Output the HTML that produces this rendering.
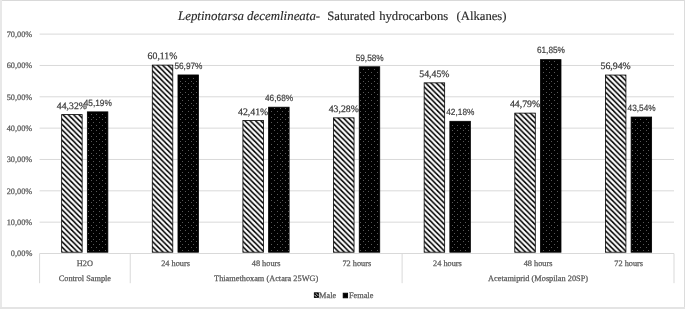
<!DOCTYPE html>
<html><head><meta charset="utf-8"><style>
html,body{margin:0;padding:0;background:#fff;}
body{width:685px;height:309px;overflow:hidden;}
svg{display:block;will-change:transform;}
text{font-family:"Liberation Serif",serif;text-rendering:geometricPrecision;}
</style></head><body>
<svg width="685" height="309" viewBox="0 0 685 309">
<defs>
<pattern id="hatch" patternUnits="userSpaceOnUse" x="0" y="0" width="5.330" height="5.330">
<rect width="5.330" height="5.330" fill="#fff"/>
<path d="M-11.160,-2.000 L-1.830,7.330 M-5.830,-2.000 L3.500,7.330 M-0.500,-2.000 L8.830,7.330 M4.830,-2.000 L14.160,7.330" stroke="#000" stroke-width="1.6"/>
</pattern>
<pattern id="dots" patternUnits="userSpaceOnUse" x="0" y="0" width="5.600" height="5.600">
<rect width="5.600" height="5.600" fill="#000"/>
<rect x="1.5" y="2.4" width="0.85" height="0.85" fill="#fff" fill-opacity="0.85"/>
<rect x="4.3" y="-0.4" width="0.85" height="0.85" fill="#fff" fill-opacity="0.85"/>
<rect x="4.3" y="5.2" width="0.85" height="0.85" fill="#fff" fill-opacity="0.85"/>
</pattern>
</defs>
<rect x="0" y="0" width="685" height="309" fill="#fff"/>
<rect x="1" y="0" width="684" height="1" fill="#d9d9d9"/>
<rect x="0" y="0" width="2" height="309" fill="#e8e8e8"/>
<rect x="684" y="0" width="1" height="309" fill="#dcdcdc"/>
<rect x="0" y="307" width="685" height="2" fill="#e4e4e4"/>
<line x1="39.60" y1="253.50" x2="674.00" y2="253.50" stroke="#d9d9d9" stroke-width="1"/>
<text x="32.3" y="256.40" font-size="8.3" fill="#595959" stroke="#595959" stroke-width="0.25" text-anchor="end">0,00%</text>
<line x1="39.60" y1="222.16" x2="674.00" y2="222.16" stroke="#d9d9d9" stroke-width="1"/>
<text x="32.3" y="225.06" font-size="8.3" fill="#595959" stroke="#595959" stroke-width="0.25" text-anchor="end">10,00%</text>
<line x1="39.60" y1="190.82" x2="674.00" y2="190.82" stroke="#d9d9d9" stroke-width="1"/>
<text x="32.3" y="193.72" font-size="8.3" fill="#595959" stroke="#595959" stroke-width="0.25" text-anchor="end">20,00%</text>
<line x1="39.60" y1="159.48" x2="674.00" y2="159.48" stroke="#d9d9d9" stroke-width="1"/>
<text x="32.3" y="162.38" font-size="8.3" fill="#595959" stroke="#595959" stroke-width="0.25" text-anchor="end">30,00%</text>
<line x1="39.60" y1="128.14" x2="674.00" y2="128.14" stroke="#d9d9d9" stroke-width="1"/>
<text x="32.3" y="131.04" font-size="8.3" fill="#595959" stroke="#595959" stroke-width="0.25" text-anchor="end">40,00%</text>
<line x1="39.60" y1="96.80" x2="674.00" y2="96.80" stroke="#d9d9d9" stroke-width="1"/>
<text x="32.3" y="99.70" font-size="8.3" fill="#595959" stroke="#595959" stroke-width="0.25" text-anchor="end">50,00%</text>
<line x1="39.60" y1="65.46" x2="674.00" y2="65.46" stroke="#d9d9d9" stroke-width="1"/>
<text x="32.3" y="68.36" font-size="8.3" fill="#595959" stroke="#595959" stroke-width="0.25" text-anchor="end">60,00%</text>
<line x1="39.60" y1="34.12" x2="674.00" y2="34.12" stroke="#d9d9d9" stroke-width="1"/>
<text x="32.3" y="37.02" font-size="8.3" fill="#595959" stroke="#595959" stroke-width="0.25" text-anchor="end">70,00%</text>
<line x1="39.60" y1="253.50" x2="39.60" y2="283.2" stroke="#d9d9d9" stroke-width="1"/>
<line x1="130.23" y1="253.50" x2="130.23" y2="283.2" stroke="#d9d9d9" stroke-width="1"/>
<line x1="402.11" y1="253.50" x2="402.11" y2="283.2" stroke="#d9d9d9" stroke-width="1"/>
<line x1="674.00" y1="253.50" x2="674.00" y2="283.2" stroke="#d9d9d9" stroke-width="1"/>
<rect x="61.65" y="114.60" width="20.50" height="137.60" fill="url(#hatch)" stroke="#000" stroke-width="0.80"/>
<rect x="87.35" y="111.87" width="20.50" height="140.33" fill="#000" stroke="#000" stroke-width="0.80"/>
<path d="M88,250h1v1h-1zM93,250h1v1h-1zM99,250h1v1h-1zM105,250h1v1h-1zM91,247h1v1h-1zM96,247h1v1h-1zM102,247h1v1h-1zM88,244h1v1h-1zM93,244h1v1h-1zM99,244h1v1h-1zM105,244h1v1h-1zM91,241h1v1h-1zM96,241h1v1h-1zM102,241h1v1h-1zM88,239h1v1h-1zM93,239h1v1h-1zM99,239h1v1h-1zM105,239h1v1h-1zM91,236h1v1h-1zM96,236h1v1h-1zM102,236h1v1h-1zM88,233h1v1h-1zM93,233h1v1h-1zM99,233h1v1h-1zM105,233h1v1h-1zM91,230h1v1h-1zM96,230h1v1h-1zM102,230h1v1h-1zM88,227h1v1h-1zM93,227h1v1h-1zM99,227h1v1h-1zM105,227h1v1h-1zM91,225h1v1h-1zM96,225h1v1h-1zM102,225h1v1h-1zM88,222h1v1h-1zM93,222h1v1h-1zM99,222h1v1h-1zM105,222h1v1h-1zM91,219h1v1h-1zM96,219h1v1h-1zM102,219h1v1h-1zM88,216h1v1h-1zM93,216h1v1h-1zM99,216h1v1h-1zM105,216h1v1h-1zM91,214h1v1h-1zM96,214h1v1h-1zM102,214h1v1h-1zM88,211h1v1h-1zM93,211h1v1h-1zM99,211h1v1h-1zM105,211h1v1h-1zM91,208h1v1h-1zM96,208h1v1h-1zM102,208h1v1h-1zM88,205h1v1h-1zM93,205h1v1h-1zM99,205h1v1h-1zM105,205h1v1h-1zM91,202h1v1h-1zM96,202h1v1h-1zM102,202h1v1h-1zM88,200h1v1h-1zM93,200h1v1h-1zM99,200h1v1h-1zM105,200h1v1h-1zM91,197h1v1h-1zM96,197h1v1h-1zM102,197h1v1h-1zM88,194h1v1h-1zM93,194h1v1h-1zM99,194h1v1h-1zM105,194h1v1h-1zM91,191h1v1h-1zM96,191h1v1h-1zM102,191h1v1h-1zM88,189h1v1h-1zM93,189h1v1h-1zM99,189h1v1h-1zM105,189h1v1h-1zM91,186h1v1h-1zM96,186h1v1h-1zM102,186h1v1h-1zM88,183h1v1h-1zM93,183h1v1h-1zM99,183h1v1h-1zM105,183h1v1h-1zM91,180h1v1h-1zM96,180h1v1h-1zM102,180h1v1h-1zM88,178h1v1h-1zM93,178h1v1h-1zM99,178h1v1h-1zM105,178h1v1h-1zM91,175h1v1h-1zM96,175h1v1h-1zM102,175h1v1h-1zM88,172h1v1h-1zM93,172h1v1h-1zM99,172h1v1h-1zM105,172h1v1h-1zM91,169h1v1h-1zM96,169h1v1h-1zM102,169h1v1h-1zM88,166h1v1h-1zM93,166h1v1h-1zM99,166h1v1h-1zM105,166h1v1h-1zM91,164h1v1h-1zM96,164h1v1h-1zM102,164h1v1h-1zM88,161h1v1h-1zM93,161h1v1h-1zM99,161h1v1h-1zM105,161h1v1h-1zM91,158h1v1h-1zM96,158h1v1h-1zM102,158h1v1h-1zM88,155h1v1h-1zM93,155h1v1h-1zM99,155h1v1h-1zM105,155h1v1h-1zM91,153h1v1h-1zM96,153h1v1h-1zM102,153h1v1h-1zM88,150h1v1h-1zM93,150h1v1h-1zM99,150h1v1h-1zM105,150h1v1h-1zM91,147h1v1h-1zM96,147h1v1h-1zM102,147h1v1h-1zM88,144h1v1h-1zM93,144h1v1h-1zM99,144h1v1h-1zM105,144h1v1h-1zM91,141h1v1h-1zM96,141h1v1h-1zM102,141h1v1h-1zM88,139h1v1h-1zM93,139h1v1h-1zM99,139h1v1h-1zM105,139h1v1h-1zM91,136h1v1h-1zM96,136h1v1h-1zM102,136h1v1h-1zM88,133h1v1h-1zM93,133h1v1h-1zM99,133h1v1h-1zM105,133h1v1h-1zM91,130h1v1h-1zM96,130h1v1h-1zM102,130h1v1h-1zM88,128h1v1h-1zM93,128h1v1h-1zM99,128h1v1h-1zM105,128h1v1h-1zM91,125h1v1h-1zM96,125h1v1h-1zM102,125h1v1h-1zM88,122h1v1h-1zM93,122h1v1h-1zM99,122h1v1h-1zM105,122h1v1h-1zM91,119h1v1h-1zM96,119h1v1h-1zM102,119h1v1h-1zM88,117h1v1h-1zM93,117h1v1h-1zM99,117h1v1h-1zM105,117h1v1h-1zM91,114h1v1h-1zM96,114h1v1h-1zM102,114h1v1h-1z" fill="#585858"/>
<text x="71.90" y="108.60" font-size="9.8" fill="#404040" stroke="#404040" stroke-width="0.25" text-anchor="middle">44,32%</text>
<text transform="translate(97.80,105.67) scale(0.92,1)" x="0" y="0" font-size="9.0" style="font-family:'Liberation Sans',sans-serif" fill="#404040" stroke="#404040" stroke-width="0.2" text-anchor="middle">45,19%</text>
<text x="84.91" y="266.1" font-size="8.3" fill="#595959" stroke="#595959" stroke-width="0.25" text-anchor="middle">H2O</text>
<rect x="152.28" y="65.12" width="20.50" height="187.08" fill="url(#hatch)" stroke="#000" stroke-width="0.80"/>
<rect x="177.98" y="74.96" width="20.50" height="177.24" fill="#000" stroke="#000" stroke-width="0.80"/>
<path d="M182,250h1v1h-1zM188,250h1v1h-1zM193,250h1v1h-1zM180,247h1v1h-1zM185,247h1v1h-1zM191,247h1v1h-1zM196,247h1v1h-1zM182,244h1v1h-1zM188,244h1v1h-1zM193,244h1v1h-1zM180,241h1v1h-1zM185,241h1v1h-1zM191,241h1v1h-1zM196,241h1v1h-1zM182,239h1v1h-1zM188,239h1v1h-1zM193,239h1v1h-1zM180,236h1v1h-1zM185,236h1v1h-1zM191,236h1v1h-1zM196,236h1v1h-1zM182,233h1v1h-1zM188,233h1v1h-1zM193,233h1v1h-1zM180,230h1v1h-1zM185,230h1v1h-1zM191,230h1v1h-1zM196,230h1v1h-1zM182,227h1v1h-1zM188,227h1v1h-1zM193,227h1v1h-1zM180,225h1v1h-1zM185,225h1v1h-1zM191,225h1v1h-1zM196,225h1v1h-1zM182,222h1v1h-1zM188,222h1v1h-1zM193,222h1v1h-1zM180,219h1v1h-1zM185,219h1v1h-1zM191,219h1v1h-1zM196,219h1v1h-1zM182,216h1v1h-1zM188,216h1v1h-1zM193,216h1v1h-1zM180,214h1v1h-1zM185,214h1v1h-1zM191,214h1v1h-1zM196,214h1v1h-1zM182,211h1v1h-1zM188,211h1v1h-1zM193,211h1v1h-1zM180,208h1v1h-1zM185,208h1v1h-1zM191,208h1v1h-1zM196,208h1v1h-1zM182,205h1v1h-1zM188,205h1v1h-1zM193,205h1v1h-1zM180,202h1v1h-1zM185,202h1v1h-1zM191,202h1v1h-1zM196,202h1v1h-1zM182,200h1v1h-1zM188,200h1v1h-1zM193,200h1v1h-1zM180,197h1v1h-1zM185,197h1v1h-1zM191,197h1v1h-1zM196,197h1v1h-1zM182,194h1v1h-1zM188,194h1v1h-1zM193,194h1v1h-1zM180,191h1v1h-1zM185,191h1v1h-1zM191,191h1v1h-1zM196,191h1v1h-1zM182,189h1v1h-1zM188,189h1v1h-1zM193,189h1v1h-1zM180,186h1v1h-1zM185,186h1v1h-1zM191,186h1v1h-1zM196,186h1v1h-1zM182,183h1v1h-1zM188,183h1v1h-1zM193,183h1v1h-1zM180,180h1v1h-1zM185,180h1v1h-1zM191,180h1v1h-1zM196,180h1v1h-1zM182,178h1v1h-1zM188,178h1v1h-1zM193,178h1v1h-1zM180,175h1v1h-1zM185,175h1v1h-1zM191,175h1v1h-1zM196,175h1v1h-1zM182,172h1v1h-1zM188,172h1v1h-1zM193,172h1v1h-1zM180,169h1v1h-1zM185,169h1v1h-1zM191,169h1v1h-1zM196,169h1v1h-1zM182,166h1v1h-1zM188,166h1v1h-1zM193,166h1v1h-1zM180,164h1v1h-1zM185,164h1v1h-1zM191,164h1v1h-1zM196,164h1v1h-1zM182,161h1v1h-1zM188,161h1v1h-1zM193,161h1v1h-1zM180,158h1v1h-1zM185,158h1v1h-1zM191,158h1v1h-1zM196,158h1v1h-1zM182,155h1v1h-1zM188,155h1v1h-1zM193,155h1v1h-1zM180,153h1v1h-1zM185,153h1v1h-1zM191,153h1v1h-1zM196,153h1v1h-1zM182,150h1v1h-1zM188,150h1v1h-1zM193,150h1v1h-1zM180,147h1v1h-1zM185,147h1v1h-1zM191,147h1v1h-1zM196,147h1v1h-1zM182,144h1v1h-1zM188,144h1v1h-1zM193,144h1v1h-1zM180,141h1v1h-1zM185,141h1v1h-1zM191,141h1v1h-1zM196,141h1v1h-1zM182,139h1v1h-1zM188,139h1v1h-1zM193,139h1v1h-1zM180,136h1v1h-1zM185,136h1v1h-1zM191,136h1v1h-1zM196,136h1v1h-1zM182,133h1v1h-1zM188,133h1v1h-1zM193,133h1v1h-1zM180,130h1v1h-1zM185,130h1v1h-1zM191,130h1v1h-1zM196,130h1v1h-1zM182,128h1v1h-1zM188,128h1v1h-1zM193,128h1v1h-1zM180,125h1v1h-1zM185,125h1v1h-1zM191,125h1v1h-1zM196,125h1v1h-1zM182,122h1v1h-1zM188,122h1v1h-1zM193,122h1v1h-1zM180,119h1v1h-1zM185,119h1v1h-1zM191,119h1v1h-1zM196,119h1v1h-1zM182,117h1v1h-1zM188,117h1v1h-1zM193,117h1v1h-1zM180,114h1v1h-1zM185,114h1v1h-1zM191,114h1v1h-1zM196,114h1v1h-1zM182,111h1v1h-1zM188,111h1v1h-1zM193,111h1v1h-1zM180,108h1v1h-1zM185,108h1v1h-1zM191,108h1v1h-1zM196,108h1v1h-1zM182,105h1v1h-1zM188,105h1v1h-1zM193,105h1v1h-1zM180,103h1v1h-1zM185,103h1v1h-1zM191,103h1v1h-1zM196,103h1v1h-1zM182,100h1v1h-1zM188,100h1v1h-1zM193,100h1v1h-1zM180,97h1v1h-1zM185,97h1v1h-1zM191,97h1v1h-1zM196,97h1v1h-1zM182,94h1v1h-1zM188,94h1v1h-1zM193,94h1v1h-1zM180,92h1v1h-1zM185,92h1v1h-1zM191,92h1v1h-1zM196,92h1v1h-1zM182,89h1v1h-1zM188,89h1v1h-1zM193,89h1v1h-1zM180,86h1v1h-1zM185,86h1v1h-1zM191,86h1v1h-1zM196,86h1v1h-1zM182,83h1v1h-1zM188,83h1v1h-1zM193,83h1v1h-1zM180,81h1v1h-1zM185,81h1v1h-1zM191,81h1v1h-1zM196,81h1v1h-1zM182,78h1v1h-1zM188,78h1v1h-1zM193,78h1v1h-1z" fill="#585858"/>
<text x="162.53" y="59.12" font-size="9.8" fill="#404040" stroke="#404040" stroke-width="0.25" text-anchor="middle">60,11%</text>
<text transform="translate(188.43,68.76) scale(0.92,1)" x="0" y="0" font-size="9.0" style="font-family:'Liberation Sans',sans-serif" fill="#404040" stroke="#404040" stroke-width="0.2" text-anchor="middle">56,97%</text>
<text x="175.54" y="266.1" font-size="8.3" fill="#595959" stroke="#595959" stroke-width="0.25" text-anchor="middle">24 hours</text>
<rect x="242.91" y="120.59" width="20.50" height="131.61" fill="url(#hatch)" stroke="#000" stroke-width="0.80"/>
<rect x="268.61" y="107.20" width="20.50" height="145.00" fill="#000" stroke="#000" stroke-width="0.80"/>
<path d="M271,250h1v1h-1zM277,250h1v1h-1zM282,250h1v1h-1zM288,250h1v1h-1zM274,247h1v1h-1zM280,247h1v1h-1zM285,247h1v1h-1zM271,244h1v1h-1zM277,244h1v1h-1zM282,244h1v1h-1zM288,244h1v1h-1zM274,241h1v1h-1zM280,241h1v1h-1zM285,241h1v1h-1zM271,239h1v1h-1zM277,239h1v1h-1zM282,239h1v1h-1zM288,239h1v1h-1zM274,236h1v1h-1zM280,236h1v1h-1zM285,236h1v1h-1zM271,233h1v1h-1zM277,233h1v1h-1zM282,233h1v1h-1zM288,233h1v1h-1zM274,230h1v1h-1zM280,230h1v1h-1zM285,230h1v1h-1zM271,227h1v1h-1zM277,227h1v1h-1zM282,227h1v1h-1zM288,227h1v1h-1zM274,225h1v1h-1zM280,225h1v1h-1zM285,225h1v1h-1zM271,222h1v1h-1zM277,222h1v1h-1zM282,222h1v1h-1zM288,222h1v1h-1zM274,219h1v1h-1zM280,219h1v1h-1zM285,219h1v1h-1zM271,216h1v1h-1zM277,216h1v1h-1zM282,216h1v1h-1zM288,216h1v1h-1zM274,214h1v1h-1zM280,214h1v1h-1zM285,214h1v1h-1zM271,211h1v1h-1zM277,211h1v1h-1zM282,211h1v1h-1zM288,211h1v1h-1zM274,208h1v1h-1zM280,208h1v1h-1zM285,208h1v1h-1zM271,205h1v1h-1zM277,205h1v1h-1zM282,205h1v1h-1zM288,205h1v1h-1zM274,202h1v1h-1zM280,202h1v1h-1zM285,202h1v1h-1zM271,200h1v1h-1zM277,200h1v1h-1zM282,200h1v1h-1zM288,200h1v1h-1zM274,197h1v1h-1zM280,197h1v1h-1zM285,197h1v1h-1zM271,194h1v1h-1zM277,194h1v1h-1zM282,194h1v1h-1zM288,194h1v1h-1zM274,191h1v1h-1zM280,191h1v1h-1zM285,191h1v1h-1zM271,189h1v1h-1zM277,189h1v1h-1zM282,189h1v1h-1zM288,189h1v1h-1zM274,186h1v1h-1zM280,186h1v1h-1zM285,186h1v1h-1zM271,183h1v1h-1zM277,183h1v1h-1zM282,183h1v1h-1zM288,183h1v1h-1zM274,180h1v1h-1zM280,180h1v1h-1zM285,180h1v1h-1zM271,178h1v1h-1zM277,178h1v1h-1zM282,178h1v1h-1zM288,178h1v1h-1zM274,175h1v1h-1zM280,175h1v1h-1zM285,175h1v1h-1zM271,172h1v1h-1zM277,172h1v1h-1zM282,172h1v1h-1zM288,172h1v1h-1zM274,169h1v1h-1zM280,169h1v1h-1zM285,169h1v1h-1zM271,166h1v1h-1zM277,166h1v1h-1zM282,166h1v1h-1zM288,166h1v1h-1zM274,164h1v1h-1zM280,164h1v1h-1zM285,164h1v1h-1zM271,161h1v1h-1zM277,161h1v1h-1zM282,161h1v1h-1zM288,161h1v1h-1zM274,158h1v1h-1zM280,158h1v1h-1zM285,158h1v1h-1zM271,155h1v1h-1zM277,155h1v1h-1zM282,155h1v1h-1zM288,155h1v1h-1zM274,153h1v1h-1zM280,153h1v1h-1zM285,153h1v1h-1zM271,150h1v1h-1zM277,150h1v1h-1zM282,150h1v1h-1zM288,150h1v1h-1zM274,147h1v1h-1zM280,147h1v1h-1zM285,147h1v1h-1zM271,144h1v1h-1zM277,144h1v1h-1zM282,144h1v1h-1zM288,144h1v1h-1zM274,141h1v1h-1zM280,141h1v1h-1zM285,141h1v1h-1zM271,139h1v1h-1zM277,139h1v1h-1zM282,139h1v1h-1zM288,139h1v1h-1zM274,136h1v1h-1zM280,136h1v1h-1zM285,136h1v1h-1zM271,133h1v1h-1zM277,133h1v1h-1zM282,133h1v1h-1zM288,133h1v1h-1zM274,130h1v1h-1zM280,130h1v1h-1zM285,130h1v1h-1zM271,128h1v1h-1zM277,128h1v1h-1zM282,128h1v1h-1zM288,128h1v1h-1zM274,125h1v1h-1zM280,125h1v1h-1zM285,125h1v1h-1zM271,122h1v1h-1zM277,122h1v1h-1zM282,122h1v1h-1zM288,122h1v1h-1zM274,119h1v1h-1zM280,119h1v1h-1zM285,119h1v1h-1zM271,117h1v1h-1zM277,117h1v1h-1zM282,117h1v1h-1zM288,117h1v1h-1zM274,114h1v1h-1zM280,114h1v1h-1zM285,114h1v1h-1zM271,111h1v1h-1zM277,111h1v1h-1zM282,111h1v1h-1zM288,111h1v1h-1zM274,108h1v1h-1zM280,108h1v1h-1zM285,108h1v1h-1z" fill="#585858"/>
<text x="253.16" y="114.59" font-size="9.8" fill="#404040" stroke="#404040" stroke-width="0.25" text-anchor="middle">42,41%</text>
<text transform="translate(279.06,101.00) scale(0.92,1)" x="0" y="0" font-size="9.0" style="font-family:'Liberation Sans',sans-serif" fill="#404040" stroke="#404040" stroke-width="0.2" text-anchor="middle">46,68%</text>
<text x="266.17" y="266.1" font-size="8.3" fill="#595959" stroke="#595959" stroke-width="0.25" text-anchor="middle">48 hours</text>
<rect x="333.54" y="117.86" width="20.50" height="134.34" fill="url(#hatch)" stroke="#000" stroke-width="0.80"/>
<rect x="359.24" y="66.78" width="20.50" height="185.42" fill="#000" stroke="#000" stroke-width="0.80"/>
<path d="M360,250h1v1h-1zM365,250h1v1h-1zM371,250h1v1h-1zM377,250h1v1h-1zM363,247h1v1h-1zM368,247h1v1h-1zM374,247h1v1h-1zM360,244h1v1h-1zM365,244h1v1h-1zM371,244h1v1h-1zM377,244h1v1h-1zM363,241h1v1h-1zM368,241h1v1h-1zM374,241h1v1h-1zM360,239h1v1h-1zM365,239h1v1h-1zM371,239h1v1h-1zM377,239h1v1h-1zM363,236h1v1h-1zM368,236h1v1h-1zM374,236h1v1h-1zM360,233h1v1h-1zM365,233h1v1h-1zM371,233h1v1h-1zM377,233h1v1h-1zM363,230h1v1h-1zM368,230h1v1h-1zM374,230h1v1h-1zM360,227h1v1h-1zM365,227h1v1h-1zM371,227h1v1h-1zM377,227h1v1h-1zM363,225h1v1h-1zM368,225h1v1h-1zM374,225h1v1h-1zM360,222h1v1h-1zM365,222h1v1h-1zM371,222h1v1h-1zM377,222h1v1h-1zM363,219h1v1h-1zM368,219h1v1h-1zM374,219h1v1h-1zM360,216h1v1h-1zM365,216h1v1h-1zM371,216h1v1h-1zM377,216h1v1h-1zM363,214h1v1h-1zM368,214h1v1h-1zM374,214h1v1h-1zM360,211h1v1h-1zM365,211h1v1h-1zM371,211h1v1h-1zM377,211h1v1h-1zM363,208h1v1h-1zM368,208h1v1h-1zM374,208h1v1h-1zM360,205h1v1h-1zM365,205h1v1h-1zM371,205h1v1h-1zM377,205h1v1h-1zM363,202h1v1h-1zM368,202h1v1h-1zM374,202h1v1h-1zM360,200h1v1h-1zM365,200h1v1h-1zM371,200h1v1h-1zM377,200h1v1h-1zM363,197h1v1h-1zM368,197h1v1h-1zM374,197h1v1h-1zM360,194h1v1h-1zM365,194h1v1h-1zM371,194h1v1h-1zM377,194h1v1h-1zM363,191h1v1h-1zM368,191h1v1h-1zM374,191h1v1h-1zM360,189h1v1h-1zM365,189h1v1h-1zM371,189h1v1h-1zM377,189h1v1h-1zM363,186h1v1h-1zM368,186h1v1h-1zM374,186h1v1h-1zM360,183h1v1h-1zM365,183h1v1h-1zM371,183h1v1h-1zM377,183h1v1h-1zM363,180h1v1h-1zM368,180h1v1h-1zM374,180h1v1h-1zM360,178h1v1h-1zM365,178h1v1h-1zM371,178h1v1h-1zM377,178h1v1h-1zM363,175h1v1h-1zM368,175h1v1h-1zM374,175h1v1h-1zM360,172h1v1h-1zM365,172h1v1h-1zM371,172h1v1h-1zM377,172h1v1h-1zM363,169h1v1h-1zM368,169h1v1h-1zM374,169h1v1h-1zM360,166h1v1h-1zM365,166h1v1h-1zM371,166h1v1h-1zM377,166h1v1h-1zM363,164h1v1h-1zM368,164h1v1h-1zM374,164h1v1h-1zM360,161h1v1h-1zM365,161h1v1h-1zM371,161h1v1h-1zM377,161h1v1h-1zM363,158h1v1h-1zM368,158h1v1h-1zM374,158h1v1h-1zM360,155h1v1h-1zM365,155h1v1h-1zM371,155h1v1h-1zM377,155h1v1h-1zM363,153h1v1h-1zM368,153h1v1h-1zM374,153h1v1h-1zM360,150h1v1h-1zM365,150h1v1h-1zM371,150h1v1h-1zM377,150h1v1h-1zM363,147h1v1h-1zM368,147h1v1h-1zM374,147h1v1h-1zM360,144h1v1h-1zM365,144h1v1h-1zM371,144h1v1h-1zM377,144h1v1h-1zM363,141h1v1h-1zM368,141h1v1h-1zM374,141h1v1h-1zM360,139h1v1h-1zM365,139h1v1h-1zM371,139h1v1h-1zM377,139h1v1h-1zM363,136h1v1h-1zM368,136h1v1h-1zM374,136h1v1h-1zM360,133h1v1h-1zM365,133h1v1h-1zM371,133h1v1h-1zM377,133h1v1h-1zM363,130h1v1h-1zM368,130h1v1h-1zM374,130h1v1h-1zM360,128h1v1h-1zM365,128h1v1h-1zM371,128h1v1h-1zM377,128h1v1h-1zM363,125h1v1h-1zM368,125h1v1h-1zM374,125h1v1h-1zM360,122h1v1h-1zM365,122h1v1h-1zM371,122h1v1h-1zM377,122h1v1h-1zM363,119h1v1h-1zM368,119h1v1h-1zM374,119h1v1h-1zM360,117h1v1h-1zM365,117h1v1h-1zM371,117h1v1h-1zM377,117h1v1h-1zM363,114h1v1h-1zM368,114h1v1h-1zM374,114h1v1h-1zM360,111h1v1h-1zM365,111h1v1h-1zM371,111h1v1h-1zM377,111h1v1h-1zM363,108h1v1h-1zM368,108h1v1h-1zM374,108h1v1h-1zM360,105h1v1h-1zM365,105h1v1h-1zM371,105h1v1h-1zM377,105h1v1h-1zM363,103h1v1h-1zM368,103h1v1h-1zM374,103h1v1h-1zM360,100h1v1h-1zM365,100h1v1h-1zM371,100h1v1h-1zM377,100h1v1h-1zM363,97h1v1h-1zM368,97h1v1h-1zM374,97h1v1h-1zM360,94h1v1h-1zM365,94h1v1h-1zM371,94h1v1h-1zM377,94h1v1h-1zM363,92h1v1h-1zM368,92h1v1h-1zM374,92h1v1h-1zM360,89h1v1h-1zM365,89h1v1h-1zM371,89h1v1h-1zM377,89h1v1h-1zM363,86h1v1h-1zM368,86h1v1h-1zM374,86h1v1h-1zM360,83h1v1h-1zM365,83h1v1h-1zM371,83h1v1h-1zM377,83h1v1h-1zM363,81h1v1h-1zM368,81h1v1h-1zM374,81h1v1h-1zM360,78h1v1h-1zM365,78h1v1h-1zM371,78h1v1h-1zM377,78h1v1h-1zM363,75h1v1h-1zM368,75h1v1h-1zM374,75h1v1h-1zM360,72h1v1h-1zM365,72h1v1h-1zM371,72h1v1h-1zM377,72h1v1h-1zM363,69h1v1h-1zM368,69h1v1h-1zM374,69h1v1h-1z" fill="#585858"/>
<text x="343.79" y="111.86" font-size="9.8" fill="#404040" stroke="#404040" stroke-width="0.25" text-anchor="middle">43,28%</text>
<text transform="translate(369.69,60.58) scale(0.92,1)" x="0" y="0" font-size="9.0" style="font-family:'Liberation Sans',sans-serif" fill="#404040" stroke="#404040" stroke-width="0.2" text-anchor="middle">59,58%</text>
<text x="356.80" y="266.1" font-size="8.3" fill="#595959" stroke="#595959" stroke-width="0.25" text-anchor="middle">72 hours</text>
<rect x="424.16" y="82.85" width="20.50" height="169.35" fill="url(#hatch)" stroke="#000" stroke-width="0.80"/>
<rect x="449.86" y="121.31" width="20.50" height="130.89" fill="#000" stroke="#000" stroke-width="0.80"/>
<path d="M454,250h1v1h-1zM460,250h1v1h-1zM465,250h1v1h-1zM452,247h1v1h-1zM457,247h1v1h-1zM463,247h1v1h-1zM468,247h1v1h-1zM454,244h1v1h-1zM460,244h1v1h-1zM465,244h1v1h-1zM452,241h1v1h-1zM457,241h1v1h-1zM463,241h1v1h-1zM468,241h1v1h-1zM454,239h1v1h-1zM460,239h1v1h-1zM465,239h1v1h-1zM452,236h1v1h-1zM457,236h1v1h-1zM463,236h1v1h-1zM468,236h1v1h-1zM454,233h1v1h-1zM460,233h1v1h-1zM465,233h1v1h-1zM452,230h1v1h-1zM457,230h1v1h-1zM463,230h1v1h-1zM468,230h1v1h-1zM454,227h1v1h-1zM460,227h1v1h-1zM465,227h1v1h-1zM452,225h1v1h-1zM457,225h1v1h-1zM463,225h1v1h-1zM468,225h1v1h-1zM454,222h1v1h-1zM460,222h1v1h-1zM465,222h1v1h-1zM452,219h1v1h-1zM457,219h1v1h-1zM463,219h1v1h-1zM468,219h1v1h-1zM454,216h1v1h-1zM460,216h1v1h-1zM465,216h1v1h-1zM452,214h1v1h-1zM457,214h1v1h-1zM463,214h1v1h-1zM468,214h1v1h-1zM454,211h1v1h-1zM460,211h1v1h-1zM465,211h1v1h-1zM452,208h1v1h-1zM457,208h1v1h-1zM463,208h1v1h-1zM468,208h1v1h-1zM454,205h1v1h-1zM460,205h1v1h-1zM465,205h1v1h-1zM452,202h1v1h-1zM457,202h1v1h-1zM463,202h1v1h-1zM468,202h1v1h-1zM454,200h1v1h-1zM460,200h1v1h-1zM465,200h1v1h-1zM452,197h1v1h-1zM457,197h1v1h-1zM463,197h1v1h-1zM468,197h1v1h-1zM454,194h1v1h-1zM460,194h1v1h-1zM465,194h1v1h-1zM452,191h1v1h-1zM457,191h1v1h-1zM463,191h1v1h-1zM468,191h1v1h-1zM454,189h1v1h-1zM460,189h1v1h-1zM465,189h1v1h-1zM452,186h1v1h-1zM457,186h1v1h-1zM463,186h1v1h-1zM468,186h1v1h-1zM454,183h1v1h-1zM460,183h1v1h-1zM465,183h1v1h-1zM452,180h1v1h-1zM457,180h1v1h-1zM463,180h1v1h-1zM468,180h1v1h-1zM454,178h1v1h-1zM460,178h1v1h-1zM465,178h1v1h-1zM452,175h1v1h-1zM457,175h1v1h-1zM463,175h1v1h-1zM468,175h1v1h-1zM454,172h1v1h-1zM460,172h1v1h-1zM465,172h1v1h-1zM452,169h1v1h-1zM457,169h1v1h-1zM463,169h1v1h-1zM468,169h1v1h-1zM454,166h1v1h-1zM460,166h1v1h-1zM465,166h1v1h-1zM452,164h1v1h-1zM457,164h1v1h-1zM463,164h1v1h-1zM468,164h1v1h-1zM454,161h1v1h-1zM460,161h1v1h-1zM465,161h1v1h-1zM452,158h1v1h-1zM457,158h1v1h-1zM463,158h1v1h-1zM468,158h1v1h-1zM454,155h1v1h-1zM460,155h1v1h-1zM465,155h1v1h-1zM452,153h1v1h-1zM457,153h1v1h-1zM463,153h1v1h-1zM468,153h1v1h-1zM454,150h1v1h-1zM460,150h1v1h-1zM465,150h1v1h-1zM452,147h1v1h-1zM457,147h1v1h-1zM463,147h1v1h-1zM468,147h1v1h-1zM454,144h1v1h-1zM460,144h1v1h-1zM465,144h1v1h-1zM452,141h1v1h-1zM457,141h1v1h-1zM463,141h1v1h-1zM468,141h1v1h-1zM454,139h1v1h-1zM460,139h1v1h-1zM465,139h1v1h-1zM452,136h1v1h-1zM457,136h1v1h-1zM463,136h1v1h-1zM468,136h1v1h-1zM454,133h1v1h-1zM460,133h1v1h-1zM465,133h1v1h-1zM452,130h1v1h-1zM457,130h1v1h-1zM463,130h1v1h-1zM468,130h1v1h-1zM454,128h1v1h-1zM460,128h1v1h-1zM465,128h1v1h-1zM452,125h1v1h-1zM457,125h1v1h-1zM463,125h1v1h-1zM468,125h1v1h-1z" fill="#585858"/>
<text x="434.41" y="76.85" font-size="9.8" fill="#404040" stroke="#404040" stroke-width="0.25" text-anchor="middle">54,45%</text>
<text transform="translate(460.31,115.11) scale(0.92,1)" x="0" y="0" font-size="9.0" style="font-family:'Liberation Sans',sans-serif" fill="#404040" stroke="#404040" stroke-width="0.2" text-anchor="middle">42,18%</text>
<text x="447.43" y="266.1" font-size="8.3" fill="#595959" stroke="#595959" stroke-width="0.25" text-anchor="middle">24 hours</text>
<rect x="514.79" y="113.13" width="20.50" height="139.07" fill="url(#hatch)" stroke="#000" stroke-width="0.80"/>
<rect x="540.49" y="59.66" width="20.50" height="192.54" fill="#000" stroke="#000" stroke-width="0.80"/>
<path d="M543,250h1v1h-1zM549,250h1v1h-1zM554,250h1v1h-1zM546,247h1v1h-1zM551,247h1v1h-1zM557,247h1v1h-1zM543,244h1v1h-1zM549,244h1v1h-1zM554,244h1v1h-1zM546,241h1v1h-1zM551,241h1v1h-1zM557,241h1v1h-1zM543,239h1v1h-1zM549,239h1v1h-1zM554,239h1v1h-1zM546,236h1v1h-1zM551,236h1v1h-1zM557,236h1v1h-1zM543,233h1v1h-1zM549,233h1v1h-1zM554,233h1v1h-1zM546,230h1v1h-1zM551,230h1v1h-1zM557,230h1v1h-1zM543,227h1v1h-1zM549,227h1v1h-1zM554,227h1v1h-1zM546,225h1v1h-1zM551,225h1v1h-1zM557,225h1v1h-1zM543,222h1v1h-1zM549,222h1v1h-1zM554,222h1v1h-1zM546,219h1v1h-1zM551,219h1v1h-1zM557,219h1v1h-1zM543,216h1v1h-1zM549,216h1v1h-1zM554,216h1v1h-1zM546,214h1v1h-1zM551,214h1v1h-1zM557,214h1v1h-1zM543,211h1v1h-1zM549,211h1v1h-1zM554,211h1v1h-1zM546,208h1v1h-1zM551,208h1v1h-1zM557,208h1v1h-1zM543,205h1v1h-1zM549,205h1v1h-1zM554,205h1v1h-1zM546,202h1v1h-1zM551,202h1v1h-1zM557,202h1v1h-1zM543,200h1v1h-1zM549,200h1v1h-1zM554,200h1v1h-1zM546,197h1v1h-1zM551,197h1v1h-1zM557,197h1v1h-1zM543,194h1v1h-1zM549,194h1v1h-1zM554,194h1v1h-1zM546,191h1v1h-1zM551,191h1v1h-1zM557,191h1v1h-1zM543,189h1v1h-1zM549,189h1v1h-1zM554,189h1v1h-1zM546,186h1v1h-1zM551,186h1v1h-1zM557,186h1v1h-1zM543,183h1v1h-1zM549,183h1v1h-1zM554,183h1v1h-1zM546,180h1v1h-1zM551,180h1v1h-1zM557,180h1v1h-1zM543,178h1v1h-1zM549,178h1v1h-1zM554,178h1v1h-1zM546,175h1v1h-1zM551,175h1v1h-1zM557,175h1v1h-1zM543,172h1v1h-1zM549,172h1v1h-1zM554,172h1v1h-1zM546,169h1v1h-1zM551,169h1v1h-1zM557,169h1v1h-1zM543,166h1v1h-1zM549,166h1v1h-1zM554,166h1v1h-1zM546,164h1v1h-1zM551,164h1v1h-1zM557,164h1v1h-1zM543,161h1v1h-1zM549,161h1v1h-1zM554,161h1v1h-1zM546,158h1v1h-1zM551,158h1v1h-1zM557,158h1v1h-1zM543,155h1v1h-1zM549,155h1v1h-1zM554,155h1v1h-1zM546,153h1v1h-1zM551,153h1v1h-1zM557,153h1v1h-1zM543,150h1v1h-1zM549,150h1v1h-1zM554,150h1v1h-1zM546,147h1v1h-1zM551,147h1v1h-1zM557,147h1v1h-1zM543,144h1v1h-1zM549,144h1v1h-1zM554,144h1v1h-1zM546,141h1v1h-1zM551,141h1v1h-1zM557,141h1v1h-1zM543,139h1v1h-1zM549,139h1v1h-1zM554,139h1v1h-1zM546,136h1v1h-1zM551,136h1v1h-1zM557,136h1v1h-1zM543,133h1v1h-1zM549,133h1v1h-1zM554,133h1v1h-1zM546,130h1v1h-1zM551,130h1v1h-1zM557,130h1v1h-1zM543,128h1v1h-1zM549,128h1v1h-1zM554,128h1v1h-1zM546,125h1v1h-1zM551,125h1v1h-1zM557,125h1v1h-1zM543,122h1v1h-1zM549,122h1v1h-1zM554,122h1v1h-1zM546,119h1v1h-1zM551,119h1v1h-1zM557,119h1v1h-1zM543,117h1v1h-1zM549,117h1v1h-1zM554,117h1v1h-1zM546,114h1v1h-1zM551,114h1v1h-1zM557,114h1v1h-1zM543,111h1v1h-1zM549,111h1v1h-1zM554,111h1v1h-1zM546,108h1v1h-1zM551,108h1v1h-1zM557,108h1v1h-1zM543,105h1v1h-1zM549,105h1v1h-1zM554,105h1v1h-1zM546,103h1v1h-1zM551,103h1v1h-1zM557,103h1v1h-1zM543,100h1v1h-1zM549,100h1v1h-1zM554,100h1v1h-1zM546,97h1v1h-1zM551,97h1v1h-1zM557,97h1v1h-1zM543,94h1v1h-1zM549,94h1v1h-1zM554,94h1v1h-1zM546,92h1v1h-1zM551,92h1v1h-1zM557,92h1v1h-1zM543,89h1v1h-1zM549,89h1v1h-1zM554,89h1v1h-1zM546,86h1v1h-1zM551,86h1v1h-1zM557,86h1v1h-1zM543,83h1v1h-1zM549,83h1v1h-1zM554,83h1v1h-1zM546,81h1v1h-1zM551,81h1v1h-1zM557,81h1v1h-1zM543,78h1v1h-1zM549,78h1v1h-1zM554,78h1v1h-1zM546,75h1v1h-1zM551,75h1v1h-1zM557,75h1v1h-1zM543,72h1v1h-1zM549,72h1v1h-1zM554,72h1v1h-1zM546,69h1v1h-1zM551,69h1v1h-1zM557,69h1v1h-1zM543,67h1v1h-1zM549,67h1v1h-1zM554,67h1v1h-1zM546,64h1v1h-1zM551,64h1v1h-1zM557,64h1v1h-1zM543,61h1v1h-1zM549,61h1v1h-1zM554,61h1v1h-1z" fill="#585858"/>
<text x="525.04" y="107.13" font-size="9.8" fill="#404040" stroke="#404040" stroke-width="0.25" text-anchor="middle">44,79%</text>
<text transform="translate(550.94,53.46) scale(0.92,1)" x="0" y="0" font-size="9.0" style="font-family:'Liberation Sans',sans-serif" fill="#404040" stroke="#404040" stroke-width="0.2" text-anchor="middle">61,85%</text>
<text x="538.06" y="266.1" font-size="8.3" fill="#595959" stroke="#595959" stroke-width="0.25" text-anchor="middle">48 hours</text>
<rect x="605.42" y="75.05" width="20.50" height="177.15" fill="url(#hatch)" stroke="#000" stroke-width="0.80"/>
<rect x="631.12" y="117.05" width="20.50" height="135.15" fill="#000" stroke="#000" stroke-width="0.80"/>
<path d="M632,250h1v1h-1zM637,250h1v1h-1zM643,250h1v1h-1zM648,250h1v1h-1zM635,247h1v1h-1zM640,247h1v1h-1zM646,247h1v1h-1zM632,244h1v1h-1zM637,244h1v1h-1zM643,244h1v1h-1zM648,244h1v1h-1zM635,241h1v1h-1zM640,241h1v1h-1zM646,241h1v1h-1zM632,239h1v1h-1zM637,239h1v1h-1zM643,239h1v1h-1zM648,239h1v1h-1zM635,236h1v1h-1zM640,236h1v1h-1zM646,236h1v1h-1zM632,233h1v1h-1zM637,233h1v1h-1zM643,233h1v1h-1zM648,233h1v1h-1zM635,230h1v1h-1zM640,230h1v1h-1zM646,230h1v1h-1zM632,227h1v1h-1zM637,227h1v1h-1zM643,227h1v1h-1zM648,227h1v1h-1zM635,225h1v1h-1zM640,225h1v1h-1zM646,225h1v1h-1zM632,222h1v1h-1zM637,222h1v1h-1zM643,222h1v1h-1zM648,222h1v1h-1zM635,219h1v1h-1zM640,219h1v1h-1zM646,219h1v1h-1zM632,216h1v1h-1zM637,216h1v1h-1zM643,216h1v1h-1zM648,216h1v1h-1zM635,214h1v1h-1zM640,214h1v1h-1zM646,214h1v1h-1zM632,211h1v1h-1zM637,211h1v1h-1zM643,211h1v1h-1zM648,211h1v1h-1zM635,208h1v1h-1zM640,208h1v1h-1zM646,208h1v1h-1zM632,205h1v1h-1zM637,205h1v1h-1zM643,205h1v1h-1zM648,205h1v1h-1zM635,202h1v1h-1zM640,202h1v1h-1zM646,202h1v1h-1zM632,200h1v1h-1zM637,200h1v1h-1zM643,200h1v1h-1zM648,200h1v1h-1zM635,197h1v1h-1zM640,197h1v1h-1zM646,197h1v1h-1zM632,194h1v1h-1zM637,194h1v1h-1zM643,194h1v1h-1zM648,194h1v1h-1zM635,191h1v1h-1zM640,191h1v1h-1zM646,191h1v1h-1zM632,189h1v1h-1zM637,189h1v1h-1zM643,189h1v1h-1zM648,189h1v1h-1zM635,186h1v1h-1zM640,186h1v1h-1zM646,186h1v1h-1zM632,183h1v1h-1zM637,183h1v1h-1zM643,183h1v1h-1zM648,183h1v1h-1zM635,180h1v1h-1zM640,180h1v1h-1zM646,180h1v1h-1zM632,178h1v1h-1zM637,178h1v1h-1zM643,178h1v1h-1zM648,178h1v1h-1zM635,175h1v1h-1zM640,175h1v1h-1zM646,175h1v1h-1zM632,172h1v1h-1zM637,172h1v1h-1zM643,172h1v1h-1zM648,172h1v1h-1zM635,169h1v1h-1zM640,169h1v1h-1zM646,169h1v1h-1zM632,166h1v1h-1zM637,166h1v1h-1zM643,166h1v1h-1zM648,166h1v1h-1zM635,164h1v1h-1zM640,164h1v1h-1zM646,164h1v1h-1zM632,161h1v1h-1zM637,161h1v1h-1zM643,161h1v1h-1zM648,161h1v1h-1zM635,158h1v1h-1zM640,158h1v1h-1zM646,158h1v1h-1zM632,155h1v1h-1zM637,155h1v1h-1zM643,155h1v1h-1zM648,155h1v1h-1zM635,153h1v1h-1zM640,153h1v1h-1zM646,153h1v1h-1zM632,150h1v1h-1zM637,150h1v1h-1zM643,150h1v1h-1zM648,150h1v1h-1zM635,147h1v1h-1zM640,147h1v1h-1zM646,147h1v1h-1zM632,144h1v1h-1zM637,144h1v1h-1zM643,144h1v1h-1zM648,144h1v1h-1zM635,141h1v1h-1zM640,141h1v1h-1zM646,141h1v1h-1zM632,139h1v1h-1zM637,139h1v1h-1zM643,139h1v1h-1zM648,139h1v1h-1zM635,136h1v1h-1zM640,136h1v1h-1zM646,136h1v1h-1zM632,133h1v1h-1zM637,133h1v1h-1zM643,133h1v1h-1zM648,133h1v1h-1zM635,130h1v1h-1zM640,130h1v1h-1zM646,130h1v1h-1zM632,128h1v1h-1zM637,128h1v1h-1zM643,128h1v1h-1zM648,128h1v1h-1zM635,125h1v1h-1zM640,125h1v1h-1zM646,125h1v1h-1zM632,122h1v1h-1zM637,122h1v1h-1zM643,122h1v1h-1zM648,122h1v1h-1zM635,119h1v1h-1zM640,119h1v1h-1zM646,119h1v1h-1z" fill="#585858"/>
<text x="615.67" y="69.05" font-size="9.8" fill="#404040" stroke="#404040" stroke-width="0.25" text-anchor="middle">56,94%</text>
<text transform="translate(641.57,110.85) scale(0.92,1)" x="0" y="0" font-size="9.0" style="font-family:'Liberation Sans',sans-serif" fill="#404040" stroke="#404040" stroke-width="0.2" text-anchor="middle">43,54%</text>
<text x="628.69" y="266.1" font-size="8.3" fill="#595959" stroke="#595959" stroke-width="0.25" text-anchor="middle">72 hours</text>
<text x="84.91" y="281.2" font-size="8.3" fill="#595959" stroke="#595959" stroke-width="0.25" text-anchor="middle">Control Sample</text>
<text x="266.17" y="281.2" font-size="8.3" fill="#595959" stroke="#595959" stroke-width="0.25" text-anchor="middle">Thiamethoxam (Actara 25WG)</text>
<text x="538.06" y="281.2" font-size="8.3" fill="#595959" stroke="#595959" stroke-width="0.25" text-anchor="middle">Acetamiprid (Mospilan 20SP)</text>
<text x="178.0" y="19.9" font-size="12.9" font-style="italic" fill="#2a2a2a" stroke="#2a2a2a" stroke-width="0.15">Leptinotarsa decemlineata-</text>
<text x="327.3" y="19.9" font-size="12.7" word-spacing="0.8" fill="#2a2a2a" stroke="#2a2a2a" stroke-width="0.15">Saturated hydrocarbons</text>
<text x="456.5" y="19.9" font-size="12.7" fill="#2a2a2a" stroke="#2a2a2a" stroke-width="0.15">(Alkanes)</text>
<rect x="314.3" y="292.8" width="4.2" height="4.8" fill="#000" stroke="#000" stroke-width="0.8"/>
<path d="M316.2,293.6 L317.9,295.5 M314.9,295.2 L316.5,297.0" stroke="#fff" stroke-opacity="0.85" stroke-width="1.0" stroke-linecap="round"/>
<text x="319.1" y="297.8" font-size="8.3" fill="#595959" stroke="#595959" stroke-width="0.25">Male</text>
<rect x="343.2" y="293.2" width="4.4" height="4.6" fill="#000" stroke="#000" stroke-width="0.9"/>
<text x="348.9" y="297.8" font-size="8.3" fill="#595959" stroke="#595959" stroke-width="0.25">Female</text>
</svg>
</body></html>
